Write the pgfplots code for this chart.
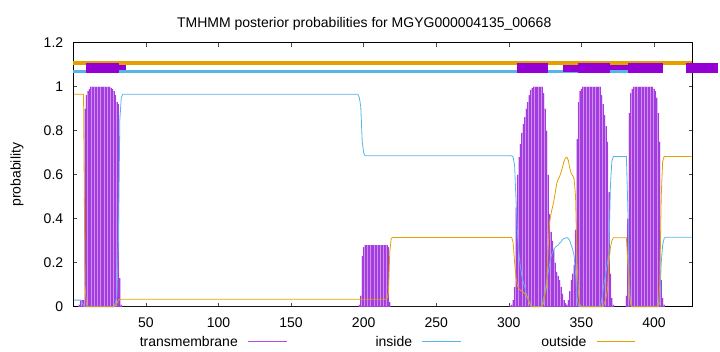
\documentclass[border=0pt]{standalone}
\usepackage{fontspec}
\setmainfont{Liberation Sans}
\usepackage{pgfplots}
\pgfplotsset{compat=1.18}
\definecolor{tmv}{HTML}{9400D3}
\definecolor{tmfill}{HTML}{CE8FEF}
\definecolor{tmline}{HTML}{A43DE0}
\definecolor{inc}{HTML}{56B4E9}
\definecolor{outc}{HTML}{E69F00}
\newcommand\ff{\fontsize{14bp}{16bp}\selectfont}
\begin{document}
\begin{tikzpicture}
\path[use as bounding box] (-73.4bp,-45.3bp) rectangle (646.6bp,306.7bp);
\begin{axis}[
 at={(0,0)}, anchor=south west, scale only axis, width=619.3bp, height=264bp,
 xmin=0, xmax=426.7, ymin=0, ymax=1.2,
 xtick={50,100,...,400}, ytick={0,0.2,0.4,0.6,0.8,1,1.2},
 tick align=inside, major tick length=4bp,
 axis line style={line width=0.8bp},
 tick style={line width=0.6bp, color=black!70},
 clip=false,
 /pgf/number format/assume math mode=true,
 tick label style={font=\ff},
 xticklabel style={anchor=base, yshift=-20.6bp},
 yticklabel style={anchor=east, inner sep=0pt, xshift=-10bp},
]
% transmembrane posterior
\addplot[fill=tmfill, draw=none, const plot mark mid] table {
x y
3 0
4 0.01
5 0.03
6 0.03
7 0.03
8 0.9
9 0.96
10 0.98
11 0.99
12 1
13 1
14 1
15 1
16 1
17 1
18 1
19 1
20 1
21 1
22 1
23 1
24 1
25 1
26 0.995
27 0.99
28 0.98
29 0.96
30 0.93
31 0.92
32 0.13
33 0.01
34 0
196 0
197 0.01
198 0.05
199 0.23
200 0.27
201 0.28
202 0.28
203 0.28
204 0.28
205 0.28
206 0.28
207 0.28
208 0.28
209 0.28
210 0.28
211 0.28
212 0.28
213 0.28
214 0.28
215 0.28
216 0.28
217 0.27
218 0.02
219 0
300 0
301 0.005
302 0.01
303 0.03
304 0.09
305 0.45
306 0.6
307 0.68
308 0.74
309 0.79
310 0.83
311 0.86
312 0.9
313 0.93
314 0.96
315 0.985
316 0.995
317 1
318 1
319 1
320 1
321 1
322 1
323 1
324 0.97
325 0.9
326 0.8
327 0.6
328 0.42
329 0.34
330 0.3
331 0.26
332 0.2
333 0.16
334 0.14
335 0.12
336 0.09
337 0.06
338 0.03
339 0.015
340 0.01
341 0.03
342 0.07
343 0.12
344 0.15
345 0.19
346 0.35
347 0.76
348 0.93
349 0.98
350 0.99
351 1
352 1
353 1
354 1
355 1
356 1
357 1
358 1
359 1
360 1
361 1
362 1
363 1
364 0.96
365 0.92
366 0.87
367 0.82
368 0.75
369 0.52
370 0.15
371 0.04
372 0.01
373 0
380 0
381 0.05
382 0.4
383 0.88
384 0.97
385 0.99
386 1
387 1
388 1
389 1
390 1
391 1
392 1
393 1
394 1
395 1
396 1
397 1
398 1
399 1
400 0.99
401 0.98
402 0.95
403 0.88
404 0.75
405 0.12
406 0.04
407 0.01
408 0
} \closedcycle;
\addplot[ycomb, color=tmline, line width=0.8bp] table {
x y
4 0.01
5 0.03
6 0.03
7 0.03
8 0.9
9 0.96
10 0.98
11 0.99
12 1
13 1
14 1
15 1
16 1
17 1
18 1
19 1
20 1
21 1
22 1
23 1
24 1
25 1
26 0.995
27 0.99
28 0.98
29 0.96
30 0.93
31 0.92
32 0.13
33 0.01
197 0.01
198 0.05
199 0.23
200 0.27
201 0.28
202 0.28
203 0.28
204 0.28
205 0.28
206 0.28
207 0.28
208 0.28
209 0.28
210 0.28
211 0.28
212 0.28
213 0.28
214 0.28
215 0.28
216 0.28
217 0.27
218 0.02
301 0.005
302 0.01
303 0.03
304 0.09
305 0.45
306 0.6
307 0.68
308 0.74
309 0.79
310 0.83
311 0.86
312 0.9
313 0.93
314 0.96
315 0.985
316 0.995
317 1
318 1
319 1
320 1
321 1
322 1
323 1
324 0.97
325 0.9
326 0.8
327 0.6
328 0.42
329 0.34
330 0.3
331 0.26
332 0.2
333 0.16
334 0.14
335 0.12
336 0.09
337 0.06
338 0.03
339 0.015
340 0.01
341 0.03
342 0.07
343 0.12
344 0.15
345 0.19
346 0.35
347 0.76
348 0.93
349 0.98
350 0.99
351 1
352 1
353 1
354 1
355 1
356 1
357 1
358 1
359 1
360 1
361 1
362 1
363 1
364 0.96
365 0.92
366 0.87
367 0.82
368 0.75
369 0.52
370 0.15
371 0.04
372 0.01
381 0.05
382 0.4
383 0.88
384 0.97
385 0.99
386 1
387 1
388 1
389 1
390 1
391 1
392 1
393 1
394 1
395 1
396 1
397 1
398 1
399 1
400 0.99
401 0.98
402 0.95
403 0.88
404 0.75
405 0.12
406 0.04
407 0.01
};
% inside
\addplot[color=inc, line width=0.8bp] table {
x y
0.3 0.03
5 0.03
6 0.02
7 0.005
8 0
28 0
29 0.02
30 0.05
31 0.3
32 0.85
33 0.95
34 0.966
196 0.966
197 0.95
198 0.91
199 0.75
200 0.70
201 0.686
302 0.686
303 0.68
304 0.64
305 0.48
306 0.33
307 0.24
308 0.18
309 0.14
310 0.11
311 0.09
312 0.06
313 0.035
314 0.02
315 0.005
316 0
322 0
323 0.01
324 0.04
325 0.07
326 0.11
327 0.15
328 0.19
329 0.225
330 0.245
331 0.26
332 0.27
333 0.275
334 0.28
335 0.289
336 0.295
337 0.305
338 0.31
339 0.312
340 0.314
341 0.31
342 0.30
343 0.28
344 0.26
345 0.23
346 0.15
347 0.04
348 0.005
349 0
363 0
364 0.03
365 0.08
366 0.12
367 0.16
368 0.2
369 0.26
370 0.55
371 0.66
372 0.683
381 0.683
382 0.45
383 0.1
384 0.01
385 0
403 0
404 0.02
405 0.2
406 0.28
407 0.31
408 0.316
426 0.316
};
% outside
\addplot[color=outc, line width=0.8bp] table {
x y
0.3 0.966
7 0.966
8 0.1
9 0.01
10 0
28 0
29 0.005
30 0.015
31 0.03
32 0.034
216 0.034
217 0.06
218 0.25
219 0.31
220 0.315
302 0.315
303 0.29
304 0.2
305 0.13
306 0.095
307 0.08
308 0.075
309 0.07
310 0.065
311 0.06
312 0.05
313 0.04
314 0.025
315 0.01
316 0
323 0
324 0.02
325 0.06
326 0.09
327 0.25
328 0.38
329 0.42
330 0.45
331 0.48
332 0.52
333 0.56
334 0.58
335 0.592
336 0.61
337 0.635
338 0.66
339 0.676
340 0.68
341 0.665
342 0.63
343 0.605
344 0.595
345 0.58
346 0.5
347 0.2
348 0.06
349 0.01
350 0
365 0
366 0.02
367 0.04
368 0.08
369 0.2
370 0.27
371 0.30
372 0.313
381 0.313
382 0.2
383 0.06
384 0.01
385 0
403 0
404 0.1
405 0.5
406 0.66
407 0.683
426 0.683
};
% topology strip
\addplot[color=outc, line width=3.2bp] coordinates {(0,1.108) (426,1.108)};
\addplot[color=inc, line width=2.9bp] coordinates {(0,1.069) (406.4,1.069)};
\addplot[color=tmv, line width=10bp] coordinates {(8.7,1.086) (31.6,1.086)};
\addplot[color=tmv, line width=5bp] coordinates {(31.6,1.0866) (36,1.0866)};
\addplot[color=tmv, line width=10bp] coordinates {(305.4,1.086) (327.2,1.086)};
\addplot[color=tmv, line width=6.7bp] coordinates {(337.5,1.0815) (347.9,1.0815)};
\addplot[color=tmv, line width=10bp] coordinates {(347.9,1.086) (369.7,1.086)};
\addplot[color=tmv, line width=5bp] coordinates {(369.7,1.085) (382.3,1.085)};
\addplot[color=tmv, line width=10bp] coordinates {(382.3,1.086) (406.4,1.086)};
\addplot[color=tmv, line width=10bp] coordinates {(421.9,1.086) (444.3,1.086)};
\end{axis}
% title, axis label, key
\node[font=\ff, anchor=base] at (290.8bp,279.4bp) {TMHMM posterior probabilities for MGYG000004135\_00668};
\node[font=\ff, rotate=90, anchor=center] at (-56.4bp,132bp) {probability};
\node[font=\ff, anchor=base east, inner sep=0pt] at (164.6bp,-39.3bp) {transmembrane};
\draw[tmv!70, line width=0.9bp] (174.9bp,-35bp) -- (213.3bp,-35bp);
\node[font=\ff, anchor=base east, inner sep=0pt] at (338.9bp,-39.3bp) {inside};
\draw[inc, line width=0.9bp] (348.3bp,-35bp) -- (387.6bp,-35bp);
\node[font=\ff, anchor=base east, inner sep=0pt] at (513.3bp,-39.3bp) {outside};
\draw[outc, line width=0.9bp] (523.3bp,-35bp) -- (561.6bp,-35bp);
\end{tikzpicture}
\end{document}
